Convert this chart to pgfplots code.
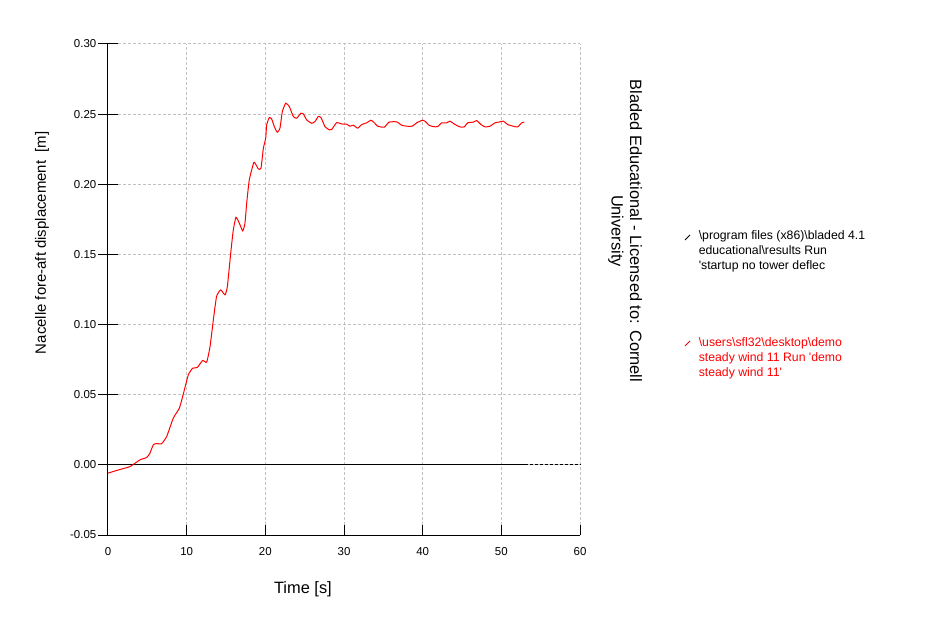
\documentclass[border=0pt]{standalone}
\usepackage{pgfplots}
\pgfplotsset{compat=1.18}
\usepackage{fontspec}
\setmainfont{Liberation Sans}
\definecolor{gridgray}{RGB}{192,192,192}
\newcommand{\PX}[2]{({#1*0.75pt},{(618-#2)*0.75pt})}
\begin{document}
\begin{tikzpicture}
\path[use as bounding box] (0,0) rectangle (708.75pt,463.5pt);
\begin{axis}[
  at={(81pt,62.25pt)}, anchor=south west,
  scale only axis, width=354pt, height=368.25pt,
  xmin=0, xmax=60, ymin=-0.05, ymax=0.30,
  axis lines*=left,
  axis line style={line width=0.75pt, black},
  xtick={0,10,...,60},
  ytick={-0.05,0,0.05,0.10,0.15,0.20,0.25,0.30},
  xtick align=inside, ytick align=center,
  major tick length=7.5pt,
  ytick style={/pgfplots/major tick length=15pt},
  tick style={line width=0.75pt, black},
  grid=major,
  major grid style={gridgray, line width=0.75pt, dash pattern=on 2.25pt off 1.5pt},
  /pgf/number format/assume math mode=true,
  yticklabel style={/pgf/number format/fixed, /pgf/number format/fixed zerofill, /pgf/number format/precision=2},
  ticklabel style={font=\fontsize{8.6}{10}\selectfont},
  xticklabel style={anchor=center, yshift=-12.75pt},
  yticklabel style={anchor=east, inner sep=0pt, xshift=-4.85pt},
  xlabel={Time [s]},
  ylabel={Nacelle fore-aft displacement~~[m]},
  xlabel style={font=\fontsize{12.3}{14}\selectfont, at={(axis description cs:0.413,0)}, anchor=center, yshift=-40.5pt},
  ylabel style={font=\fontsize{11.2}{13}\selectfont, at={(axis description cs:-0.14,0.595)}, anchor=center},
  clip=false,
]
\addplot[black, line width=0.75pt] coordinates {(0,0) (53,0)};
\addplot[black, line width=0.75pt, dash pattern=on 2.25pt off 1.5pt] coordinates {(53,0) (60,0)};
\addplot[red, line width=0.75pt, smooth, tension=0.3] coordinates {
(0,-0.0059) (1.4,-0.0035) (2.8,-0.0012) (4.07,0.0036) (4.9,0.0052) (5.3,0.008)
(5.76,0.0143) (6.2,0.0152) (6.8,0.015) (7.46,0.0202) (8.3,0.0333) (9.07,0.0404)
(9.58,0.0506) (10.2,0.064) (10.76,0.0689) (11.35,0.0694) (12.03,0.0744) (12.54,0.0732)
(12.97,0.0843) (13.39,0.1033) (13.8,0.12) (14.32,0.1247) (14.87,0.1212) (15.17,0.127)
(15.6,0.151) (15.93,0.1675) (16.27,0.1765) (16.7,0.1722) (17.12,0.1668) (17.41,0.1722)
(17.63,0.1865) (17.96,0.2031) (18.56,0.2157) (19.1,0.211) (19.45,0.2115) (19.75,0.2257)
(20.05,0.2329) (20.17,0.2423) (20.5,0.2475) (20.8,0.2466) (21.14,0.2411) (21.52,0.2371)
(21.86,0.24) (22.16,0.2518) (22.59,0.2578) (23.05,0.2554) (23.56,0.2483) (23.99,0.2471)
(24.53,0.2507) (24.83,0.2502) (25.26,0.2459) (25.89,0.2435) (26.31,0.2447) (26.73,0.2483)
(27.08,0.2475) (27.58,0.2411) (28.13,0.2388) (28.43,0.239) (29.07,0.244) (29.7,0.2430)
(30.34,0.2428) (30.76,0.2414) (31.18,0.2421) (31.74,0.24) (32.25,0.2426) (32.88,0.2438)
(33.43,0.2457) (33.86,0.2438) (34.28,0.2414) (35.13,0.2407) (35.72,0.2443) (36.7,0.2445)
(37.33,0.2421) (37.97,0.2414) (38.68,0.2414) (39.24,0.2438) (40.0,0.2457) (40.4,0.2445)
(40.8,0.2421) (41.35,0.2411) (41.91,0.2411) (42.42,0.2438) (43.05,0.2438) (43.47,0.245)
(44.11,0.2426) (44.74,0.2409) (45.29,0.2409) (45.72,0.2438) (46.43,0.2443) (46.87,0.2454)
(47.41,0.2426) (47.92,0.2409) (48.56,0.2414) (49.19,0.2438) (49.83,0.2445) (50.25,0.245)
(50.81,0.2426) (51.52,0.2414) (52.08,0.2409) (52.58,0.2438) (52.92,0.2443)
};
\end{axis}
% title (rotated)
\node[rotate=-90, align=center, anchor=center, inner sep=0pt,
      font=\fontsize{12.3}{13.9}\selectfont] at \PX{625}{231}
  {Bladed Educational - Licensed to: Cornell\\University};
% legend
\draw[black, line width=0.75pt] \PX{685}{240} -- \PX{690}{235};
\begin{scope}[every node/.style={anchor=base west, inner sep=0pt, font=\fontsize{9.2}{11}\selectfont}]
\node at \PX{698.5}{240} {\textbackslash program files (x86)\textbackslash bladed 4.1};
\node at \PX{698.5}{255} {educational\textbackslash results Run};
\node at \PX{698.5}{270} {\textquotesingle startup no tower deflec};
\end{scope}
\draw[red, line width=0.75pt] \PX{685}{346} -- \PX{690}{341};
\begin{scope}[every node/.style={anchor=base west, inner sep=0pt, text=red, font=\fontsize{9.2}{11}\selectfont}]
\node at \PX{698.5}{346} {\textbackslash users\textbackslash sfl32\textbackslash desktop\textbackslash demo};
\node at \PX{698.5}{361} {steady wind 11 Run \textquotesingle demo};
\node at \PX{698.5}{376} {steady wind 11\textquotesingle};
\end{scope}
\end{tikzpicture}
\end{document}
